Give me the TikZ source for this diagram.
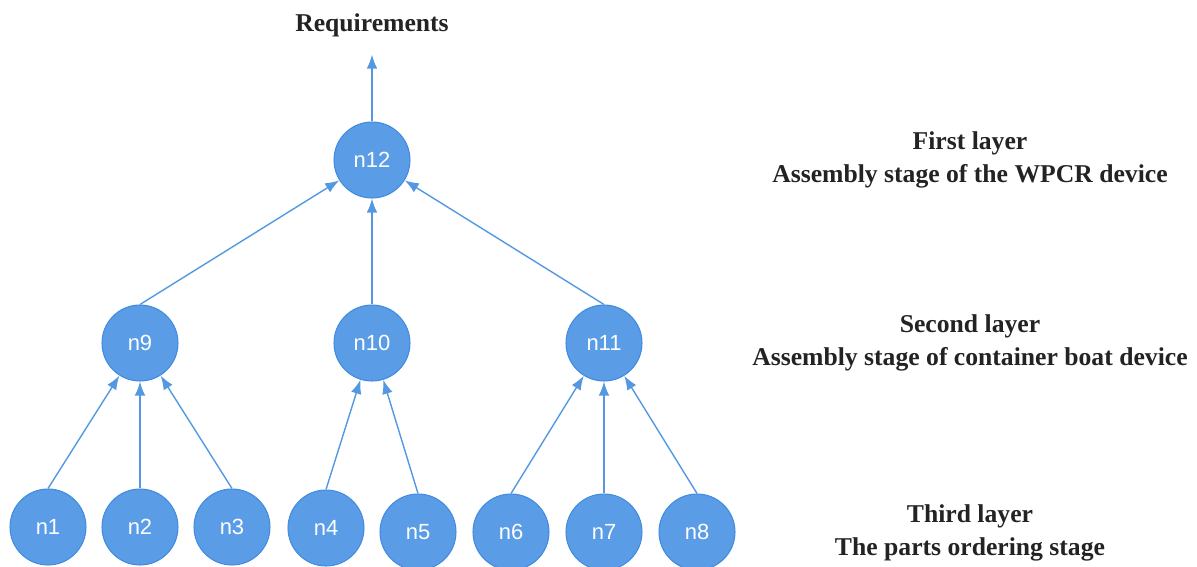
\documentclass[tikz,border=0pt]{standalone}
\usepackage{fontspec}
\setmainfont{Liberation Serif}
\newfontfamily\nodefont{Liberation Sans}
\definecolor{nodeblue}{RGB}{90,156,230}
\definecolor{edgeblue}{RGB}{66,140,224}
\definecolor{lineblue}{RGB}{84,152,226}
\definecolor{textgray}{RGB}{35,35,35}
\usetikzlibrary{shapes,arrows.meta,positioning,calc}

\tikzset{
    partnode/.style={circle, fill=nodeblue, draw=edgeblue, line width=0.6pt, minimum size=1.52cm, inner sep=0pt, text=white, font=\nodefont\fontsize{12.5}{14}\selectfont},
    linkarrow/.style={draw=lineblue, line width=0.8pt, -{Latex[length=8pt,width=6pt]}},
    layertext/.style={align=center, text=textgray, font=\bfseries\fontsize{14.6}{18.7}\selectfont}
}

\begin{document}
\begin{tikzpicture}[x=0.02cm, y=-0.02cm]
            \useasboundingbox (0,0) rectangle (1197,566);
            % first layer
            \node[layertext, inner xsep=2pt, inner ysep=10pt] (req) at (372,25) {Requirements};
            \node[partnode] (n12) at (372,160) {n12};
            % second layer
            \node[partnode] (n9) at (140,343) {n9};
            \node[partnode] (n10) at (372,343) {n10};
            \node[partnode] (n11) at (604,343) {n11};
            % third layer
            \node[partnode] (n1) at (48,527) {n1};
            \node[partnode] (n2) at (140,527) {n2};
            \node[partnode] (n3) at (232,527) {n3};
            \node[partnode] (n4) at (326,528) {n4};
            \node[partnode] (n5) at (418,532) {n5};
            \node[partnode] (n6) at (511,532) {n6};
            \node[partnode] (n7) at (604,532) {n7};
            \node[partnode] (n8) at (697,532) {n8};

            \draw[linkarrow] (n12.north) -- (req.south);
            \draw[linkarrow] (n9.north) -- (n12);
            \draw[linkarrow] (n10.north) -- (n12.south);
            \draw[linkarrow] (n11.north) -- (n12);
            \draw[linkarrow] (n1.north) -- (n9);
            \draw[linkarrow] (n2.north) -- (n9.south);
            \draw[linkarrow] (n3.north) -- (n9);
            \draw[linkarrow] (n4.north) -- (n10);
            \draw[linkarrow] (n5.north) -- (n10);
            \draw[linkarrow] (n6.north) -- (n11);
            \draw[linkarrow] (n7.north) -- (n11.south);
            \draw[linkarrow] (n8.north) -- (n11);

            % layer captions
            \node[layertext] (first) at (970,160) {First layer\\Assembly stage of the WPCR device};
            \node[layertext] (second) at (970,343) {Second layer\\Assembly stage of container boat device};
            \node[layertext] (third) at (970,533) {Third layer\\The parts ordering stage};
        \end{tikzpicture}
\end{document}
